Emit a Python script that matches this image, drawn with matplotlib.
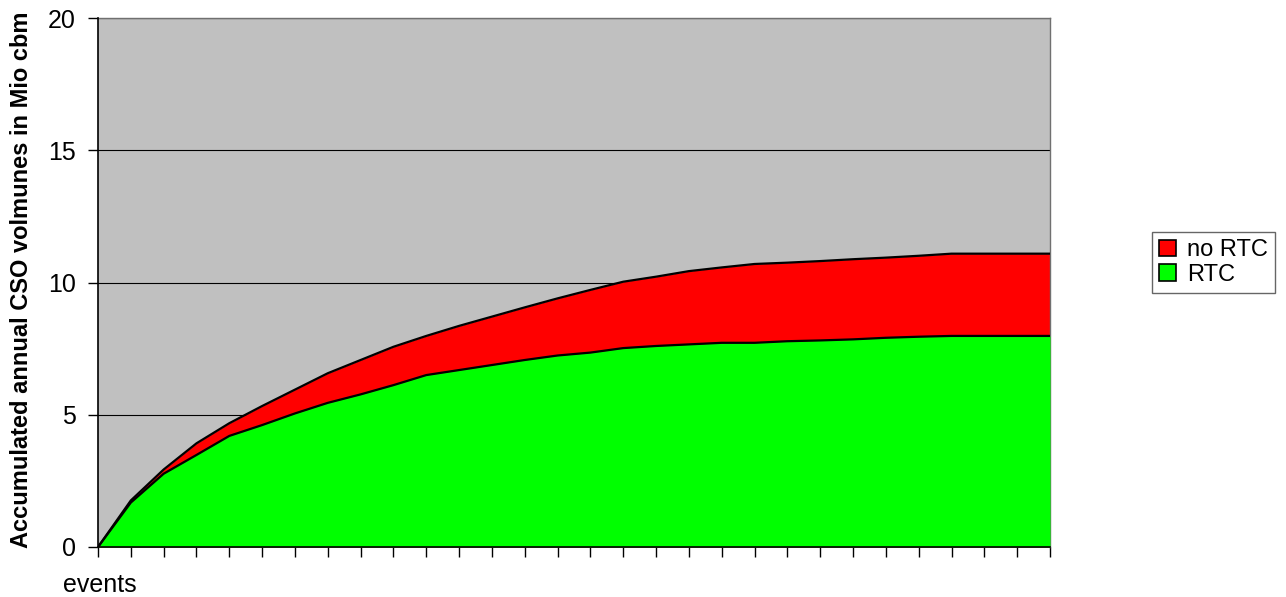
import matplotlib.pyplot as plt
from matplotlib.patches import Patch
import numpy as np

plt.rcParams['font.family'] = ['Liberation Sans', 'DejaVu Sans']

# accumulated annual CSO volumes (Mio cbm) per event
no_rtc = [0, 1.76, 2.93, 3.92, 4.68, 5.33, 5.95, 6.57, 7.07, 7.57, 7.98, 8.36,
          8.71, 9.06, 9.40, 9.72, 10.03, 10.22, 10.43, 10.57, 10.70, 10.75,
          10.81, 10.88, 10.94, 11.01, 11.09, 11.09, 11.09, 11.09]
rtc = [0, 1.68, 2.77, 3.48, 4.20, 4.61, 5.05, 5.45, 5.77, 6.12, 6.50, 6.69,
       6.88, 7.07, 7.24, 7.35, 7.52, 7.60, 7.66, 7.72, 7.72, 7.78, 7.81,
       7.85, 7.91, 7.95, 7.98, 7.98, 7.98, 7.98]
y_ticks = [0, 5, 10, 15, 20]

x = np.arange(len(no_rtc))

fig = plt.figure(figsize=(12.86, 5.97), dpi=100)
ax = fig.add_axes([98 / 1286, 50 / 597, 952 / 1286, 529 / 597])
ax.set_facecolor('#C0C0C0')

# red area is the total without RTC, green area drawn over it
ax.fill_between(x, 0, no_rtc, color='#FF0000', linewidth=0, zorder=2)
ax.fill_between(x, 0, rtc, color='#00FF00', linewidth=0, zorder=3)
ax.plot(x, no_rtc, color='black', linewidth=1.6, zorder=4)
ax.plot(x, rtc, color='black', linewidth=1.6, zorder=4)

ax.set_xlim(0, len(x) - 1)
ax.set_ylim(0, 20)
ax.set_xticks(x)
ax.set_xticklabels([])
ax.set_yticks(y_ticks)
ax.set_yticklabels([str(v) for v in y_ticks], fontsize=18)
ax.tick_params(axis='both', direction='out', length=7, width=1, color='black')
ax.tick_params(axis='y', pad=9)

ax.grid(axis='y', color='black', linewidth=0.8, zorder=1)
ax.set_axisbelow(True)

for side in ['left', 'bottom']:
    ax.spines[side].set_color('black')
    ax.spines[side].set_linewidth(1.2)
    ax.spines[side].set_zorder(5)
for side in ['top', 'right']:
    ax.spines[side].set_color('#707070')
    ax.spines[side].set_linewidth(1.0)

fig.text(22 / 1286, 1 - 280 / 597, 'Accumulated annual CSO volmunes in Mio cbm',
         rotation=90, ha='center', va='center', fontsize=17, fontweight='bold')
fig.text(100 / 1286, 1 - 592 / 597, 'events', ha='center', va='baseline', fontsize=18)

handles = [Patch(facecolor='#FF0000', edgecolor='black', linewidth=1.2, label='no RTC'),
           Patch(facecolor='#00FF00', edgecolor='black', linewidth=1.2, label='RTC')]
leg = fig.legend(handles=handles, loc='upper left',
                 bbox_to_anchor=(1152 / 1286, 1 - 232 / 597),
                 fontsize=17, frameon=True, fancybox=False,
                 handlelength=0.7, handleheight=0.7, handletextpad=0.5,
                 borderpad=0.3, labelspacing=0.12, borderaxespad=0)
leg.get_frame().set_edgecolor('#404040')
leg.get_frame().set_linewidth(1.0)

fig.savefig('out.png', dpi=100)
